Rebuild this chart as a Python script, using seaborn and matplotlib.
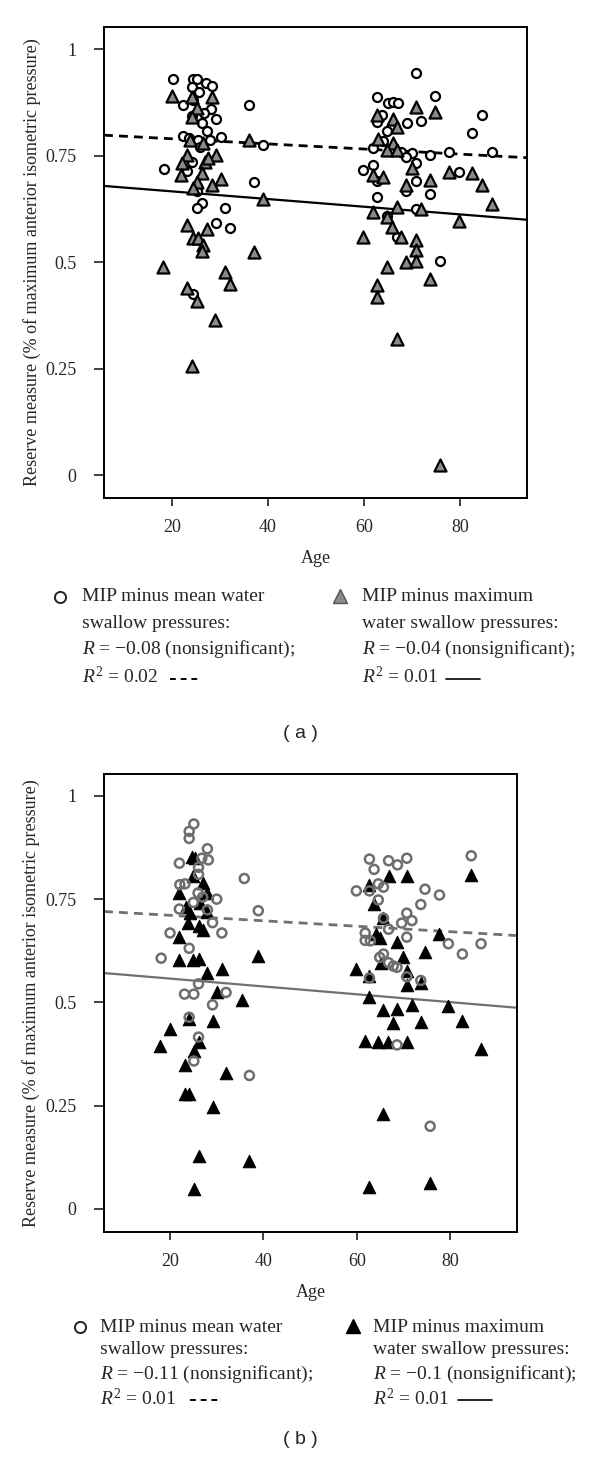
import matplotlib
matplotlib.use("Agg")
import matplotlib.pyplot as plt
from matplotlib.lines import Line2D
import seaborn as sns
import numpy as np

# ---------------- data ----------------
# Panel (a): MIP minus mean water swallow pressures (circles)
a_mean_age = [20.1, 24.3, 25.1, 27.1, 28.3, 24.1, 24.4, 22.2, 36.1, 28.1, 24.1, 29.2, 26.2, 27.2,
              22.2, 23.5, 30.2, 39.0, 25.3, 27.9, 25.8, 24.1, 18.3, 23.1, 37.1, 25.1, 26.2, 25.1,
              31.0, 29.2, 32.1, 24.3, 25.6, 26.6,
              70.8, 62.8, 74.8, 65.1, 66.0, 67.0, 84.7, 63.7, 62.8, 68.9, 71.9, 64.9, 82.6, 63.9,
              61.8, 66.0, 67.8, 70.0, 73.75, 77.8, 86.8, 68.75, 70.8, 61.9, 59.9, 79.9, 62.8, 70.8,
              68.75, 73.75, 62.8, 70.8, 64.9, 66.8, 75.8]
a_mean_val = [0.93, 0.93, 0.93, 0.92, 0.913, 0.91, 0.88, 0.87, 0.87, 0.86, 0.843, 0.835, 0.826, 0.808,
              0.797, 0.792, 0.794, 0.775, 0.786, 0.786, 0.77, 0.735, 0.718, 0.714, 0.687, 0.667, 0.639, 0.626,
              0.628, 0.592, 0.581, 0.426, 0.90, 0.85,
              0.944, 0.888, 0.89, 0.874, 0.876, 0.874, 0.845, 0.845, 0.83, 0.826, 0.832, 0.807, 0.804, 0.785,
              0.769, 0.765, 0.759, 0.757, 0.751, 0.759, 0.759, 0.747, 0.733, 0.728, 0.717, 0.712, 0.69, 0.69,
              0.667, 0.659, 0.653, 0.624, 0.608, 0.559, 0.503]

# Panel (a): MIP minus maximum water swallow pressures (triangles)
a_max_age = [19.9, 28.3, 24.1, 25.1, 24.1, 36.1, 23.75, 23.1, 29.2, 22.0, 26.9, 21.8, 26.2, 30.2,
             28.3, 25.1, 24.3, 39.0, 23.2, 27.2, 24.4, 25.3, 26.4, 26.2, 37.1, 18.2, 31.0, 32.1,
             23.1, 25.1, 29.0, 24.2, 26.5, 27.5,
             70.8, 74.8, 62.8, 66.0, 66.8, 63.0, 66.0, 64.9, 66.8, 70.0, 77.8, 82.6, 61.8, 64.0,
             73.75, 84.7, 68.75, 86.8, 66.9, 72.0, 61.9, 64.9, 79.9, 65.8, 59.9, 67.8, 70.8, 70.8,
             68.75, 70.8, 64.9, 73.75, 62.8, 62.8, 66.8, 75.8]
a_max_val = [0.89, 0.888, 0.888, 0.861, 0.841, 0.786, 0.786, 0.751, 0.751, 0.732, 0.735, 0.704, 0.708, 0.696,
             0.682, 0.688, 0.675, 0.648, 0.587, 0.577, 0.556, 0.556, 0.54, 0.527, 0.524, 0.489, 0.476, 0.448,
             0.438, 0.408, 0.365, 0.256, 0.78, 0.745,
             0.865, 0.853, 0.845, 0.837, 0.818, 0.79, 0.779, 0.763, 0.763, 0.72, 0.712, 0.708, 0.704, 0.70,
             0.692, 0.682, 0.681, 0.636, 0.63, 0.624, 0.618, 0.606, 0.597, 0.583, 0.558, 0.558, 0.553, 0.528,
             0.501, 0.503, 0.489, 0.46, 0.446, 0.417, 0.319, 0.023]

# Panel (b): circles
b_mean_age = [25.1, 24.1, 24.1, 28.0, 22.0, 28.2, 26.8, 26.1, 35.9, 26.1, 22.1, 23.2, 26.0, 27.0,
              30.0, 25.0, 22.0, 38.9, 28.0, 29.1, 20.0, 31.1, 24.1, 18.1, 26.1, 23.1, 25.1, 32.0,
              29.1, 24.1, 26.1, 25.1, 37.0,
              84.5, 62.7, 66.8, 70.7, 68.7, 63.7, 64.6, 65.7, 59.9, 62.7, 74.6, 77.7, 64.6, 73.7,
              70.7, 71.8, 69.6, 65.7, 66.8, 61.8, 61.8, 62.9, 70.7, 79.6, 86.6, 82.6, 65.7, 64.9,
              66.8, 67.8, 68.6, 62.7, 70.7, 73.7, 68.6, 75.7]
b_mean_val = [0.932, 0.914, 0.897, 0.872, 0.837, 0.845, 0.849, 0.827, 0.80, 0.81, 0.785, 0.787, 0.765, 0.755,
              0.75, 0.742, 0.726, 0.722, 0.724, 0.693, 0.668, 0.668, 0.631, 0.607, 0.545, 0.52, 0.52, 0.524,
              0.494, 0.464, 0.416, 0.358, 0.323,
              0.855, 0.847, 0.843, 0.849, 0.833, 0.822, 0.787, 0.779, 0.77, 0.77, 0.774, 0.76, 0.748, 0.737,
              0.716, 0.698, 0.692, 0.704, 0.677, 0.668, 0.65, 0.649, 0.658, 0.642, 0.642, 0.617, 0.617, 0.609,
              0.596, 0.588, 0.585, 0.559, 0.562, 0.553, 0.397, 0.2]

# Panel (b): triangles
b_max_age = [24.6, 25.3, 25.0, 27.1, 22.0, 28.0, 26.4, 23.4, 24.3, 28.0, 23.9, 26.1, 27.0, 22.0,
             38.9, 22.0, 25.0, 26.3, 28.0, 31.1, 30.0, 35.4, 24.1, 29.1, 20.1, 26.3, 17.9, 25.1,
             23.1, 32.0, 23.1, 24.1, 29.1, 26.1, 37.0, 25.1,
             84.5, 66.8, 70.7, 62.7, 63.7, 65.7, 64.1, 65.0, 77.7, 68.7, 74.6, 69.9, 59.9, 65.1,
             62.7, 70.7, 70.7, 73.7, 62.7, 65.7, 68.7, 71.8, 79.6, 67.7, 73.7, 82.6, 61.8, 64.6,
             66.6, 70.7, 86.5, 65.7, 62.7, 75.7]
b_max_val = [0.853, 0.85, 0.806, 0.79, 0.766, 0.766, 0.74, 0.732, 0.717, 0.72, 0.693, 0.684, 0.676, 0.658,
             0.613, 0.603, 0.603, 0.605, 0.571, 0.581, 0.524, 0.506, 0.459, 0.454, 0.436, 0.403, 0.395, 0.383,
             0.349, 0.329, 0.278, 0.278, 0.246, 0.128, 0.115, 0.048,
             0.809, 0.806, 0.806, 0.785, 0.738, 0.704, 0.666, 0.655, 0.666, 0.645, 0.623, 0.611, 0.58, 0.595,
             0.563, 0.575, 0.542, 0.548, 0.513, 0.482, 0.483, 0.494, 0.492, 0.45, 0.452, 0.454, 0.407, 0.404,
             0.404, 0.403, 0.387, 0.229, 0.053, 0.062]

# Fitted regression lines (intercept, slope)
a_mean_fit = (0.8015, -0.0006)
a_max_fit = (0.684, -0.0009)
b_mean_fit = (0.724, -0.00066)
b_max_fit = (0.5766, -0.00095)

y_ticks = [0, 0.25, 0.5, 0.75, 1]
y_ticklabels = ["0", "0.25", "0.5", "0.75", "1"]
x_ticks = [20, 40, 60, 80]

ylabel = "Reserve measure (% of maximum anterior isometric pressure)"
xlabel = "Age"
legend_a = (["MIP minus mean water", "swallow pressures:", "$R$ = \u22120.08 (nonsignificant);", "$R^2$ = 0.02"],
            ["MIP minus maximum", "water swallow pressures:", "$R$ = \u22120.04 (nonsignificant);", "$R^2$ = 0.01"])
legend_b = (["MIP minus mean water", "swallow pressures:", "$R$ = \u22120.11 (nonsignificant);", "$R^2$ = 0.01"],
            ["MIP minus maximum", "water swallow pressures:", "$R$ = \u22120.1 (nonsignificant);", "$R^2$ = 0.01"])

# ---------------- style ----------------
sns.set_style("ticks")
plt.rcParams['font.family'] = ['Liberation Serif', 'DejaVu Serif']
plt.rcParams['mathtext.fontset'] = 'custom'
plt.rcParams['mathtext.rm'] = 'Liberation Serif'
plt.rcParams['mathtext.it'] = 'Liberation Serif:italic'
plt.rcParams['mathtext.bf'] = 'Liberation Serif:bold'

W, H = 600, 1457
fig = plt.figure(figsize=(W / 100, H / 100), dpi=100)


def ax_rect(l, r, t, b):
    return [l / W, 1 - b / H, (r - l) / W, (b - t) / H]


ax_a = fig.add_axes(ax_rect(104, 527, 27, 498))
ax_b = fig.add_axes(ax_rect(104, 517, 774, 1232))


def style_axes(ax, xlim, ylim, label_x):
    ax.set_xlim(*xlim)
    ax.set_ylim(*ylim)
    ax.set_xticks(x_ticks)
    ax.set_yticks(y_ticks)
    ax.set_yticklabels(y_ticklabels)
    for s in ax.spines.values():
        s.set_visible(True)
        s.set_linewidth(1.4)
        s.set_color('black')
    ax.tick_params(axis='y', length=7, width=1.3, pad=13, labelsize=13, color='#333333')
    ax.tick_params(axis='x', length=6, width=1.3, pad=9, labelsize=13, color='#333333')
    ax.set_ylabel(ylabel, fontsize=13)
    ax.yaxis.set_label_coords(label_x, 0.5)
    ax.set_xlabel(xlabel, fontsize=13, labelpad=10)


def fit_line(ax, fit, xlim, color, ls, lw):
    xs = np.array(xlim)
    ys = fit[0] + fit[1] * xs
    sns.lineplot(x=xs, y=ys, ax=ax, color=color, linestyle=ls, linewidth=lw)


# Panel (a)
xlim_a = (5.8, 94.0)
sns.scatterplot(x=a_mean_age, y=a_mean_val, ax=ax_a, marker='o', s=42,
                color='white', edgecolor='black', linewidth=1.6, zorder=3)
sns.scatterplot(x=a_max_age, y=a_max_val, ax=ax_a, marker='^', s=75,
                color='#8a8a8a', edgecolor='black', linewidth=1.6, zorder=3)
fit_line(ax_a, a_mean_fit, xlim_a, 'black', (0, (3.2, 2.2)), 2.0)
fit_line(ax_a, a_max_fit, xlim_a, 'black', '-', 1.6)
style_axes(ax_a, xlim_a, (-0.054, 1.052), -0.15)

# Panel (b)
xlim_b = (5.86, 94.3)
sns.scatterplot(x=b_max_age, y=b_max_val, ax=ax_b, marker='^', s=80,
                color='black', edgecolor='black', linewidth=0.8, zorder=3)
sns.scatterplot(x=b_mean_age, y=b_mean_val, ax=ax_b, marker='o', s=42,
                color='none', edgecolor='#6e6e6e', linewidth=1.8, zorder=4)
fit_line(ax_b, b_mean_fit, xlim_b, '#707070', (0, (3.2, 2.2)), 2.0)
fit_line(ax_b, b_max_fit, xlim_b, '#707070', '-', 1.6)
style_axes(ax_b, xlim_b, (-0.056, 1.053), -0.154)


# ---------------- legends (figure text) ----------------
def ftext(x, y, s, **kw):
    fig.text(x / W, 1 - y / H, s, va='center', ha='left', **kw)


def fmarker(x, y, **kw):
    fig.add_artist(Line2D([x / W], [1 - y / H], transform=fig.transFigure, linestyle='none', **kw))


def fline(x0, x1, y, **kw):
    fig.add_artist(Line2D([x0 / W, x1 / W], [1 - y / H, 1 - y / H], transform=fig.transFigure, **kw))


# (a)
rows_a = [597, 623, 649, 677]
fmarker(60, 597, marker='o', markersize=8, markerfacecolor='white', markeredgecolor='#222222', markeredgewidth=1.4)
for s, y in zip(legend_a[0], rows_a):
    ftext(82, y, s, fontsize=14)
fline(170, 200, 679, color='black', linewidth=1.4, linestyle=(0, (3, 2.5)), solid_capstyle='butt', dash_capstyle='butt')
fmarker(340, 596, marker='^', markersize=10, markerfacecolor='#8a8a8a', markeredgecolor='#555555', markeredgewidth=1.0)
for s, y in zip(legend_a[1], rows_a):
    ftext(362, y, s, fontsize=14)
fline(446, 480, 679, color='black', linewidth=1.2)
fig.text(0.5, 1 - 733 / H, "( a )", ha='center', va='center', fontsize=14,
         family=['Liberation Sans', 'DejaVu Sans'])

# (b)
rows_b = [1327, 1350, 1374, 1398]
fmarker(80, 1327, marker='o', markersize=8, markerfacecolor='white', markeredgecolor='#222222', markeredgewidth=1.4)
for s, y in zip(legend_b[0], rows_b):
    ftext(100, y, s, fontsize=14)
fline(190, 220, 1400, color='black', linewidth=1.4, linestyle=(0, (3, 2.5)), solid_capstyle='butt', dash_capstyle='butt')
fmarker(353, 1326, marker='^', markersize=10, markerfacecolor='black', markeredgecolor='black', markeredgewidth=1.0)
for s, y in zip(legend_b[1], rows_b):
    ftext(373, y, s, fontsize=14)
fline(458, 492, 1400, color='black', linewidth=1.2)
fig.text(0.5, 1 - 1440 / H, "( b )", ha='center', va='center', fontsize=14,
         family=['Liberation Sans', 'DejaVu Sans'])

fig.savefig("out.png", dpi=100, facecolor='white')
